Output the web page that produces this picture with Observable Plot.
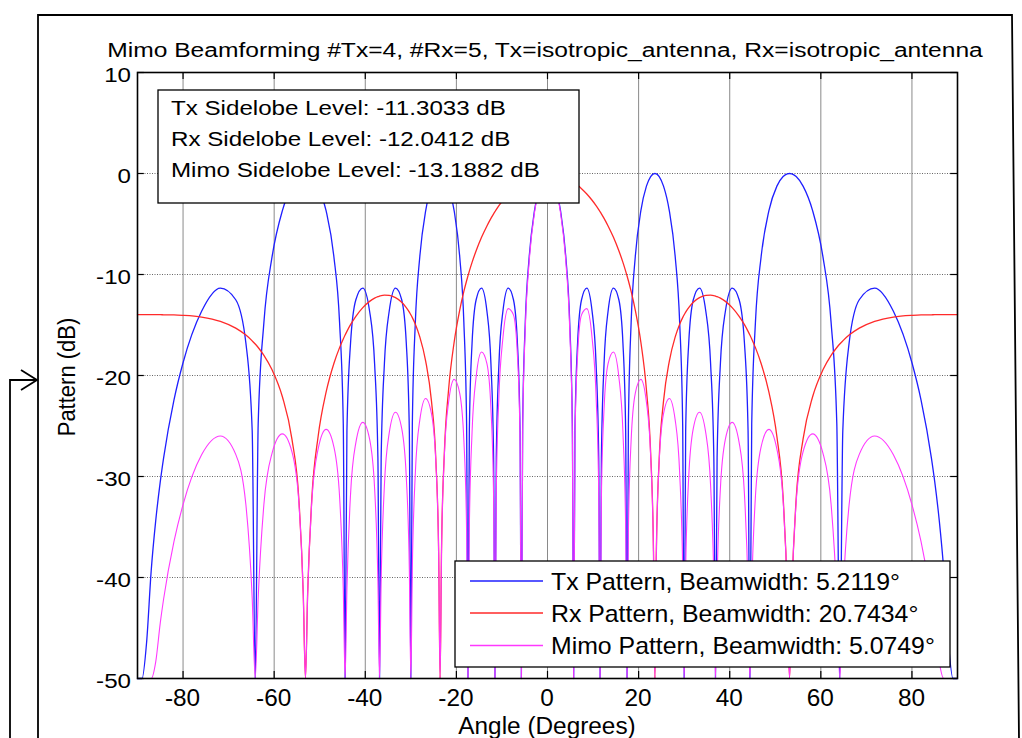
<!DOCTYPE html>
<html><head><meta charset="utf-8">
<script src="https://cdn.jsdelivr.net/npm/d3@7"></script>
<script src="https://cdn.jsdelivr.net/npm/@observablehq/plot@0.6"></script>
<style>
html,body{margin:0;padding:0;background:#fff;}
#chart{position:relative;width:1022px;height:738px;overflow:hidden;}
#chart svg{display:block;}
</style></head><body><div id="chart"></div>
<script>
const titleText = "Mimo Beamforming #Tx=4, #Rx=5, Tx=isotropic_antenna, Rx=isotropic_antenna";
const xLabel = "Angle (Degrees)";
const yLabel = "Pattern (dB)";
const xTicks = [-80, -60, -40, -20, 0, 20, 40, 60, 80];
const yTicks = [10, 0, -10, -20, -30, -40, -50];
const sidelobeLines = ["Tx Sidelobe Level: -11.3033 dB", "Rx Sidelobe Level: -12.0412 dB", "Mimo Sidelobe Level: -13.1882 dB"];
const seriesNames = ["Tx Pattern, Beamwidth: 5.2119°", "Rx Pattern, Beamwidth: 20.7434°", "Mimo Pattern, Beamwidth: 5.0749°"];
const seriesColors = ["#1f1fff", "#ff2a2a", "#ff38ff"];

const angle = [
-90,-89,-88,-87,-86,-85,-84.268,-82,-80.064,-75.93,-71.805,-68.435,-66.206,-64.823,-64.158,
-63.508,-62.252,-60.459,-58.212,-56.099,-54.587,-53.61,-53.13,
-52.655,-51.721,-50.354,-48.59,-46.892,-45.643,-44.83,-44.427,
-44.027,-43.236,-42.067,-40.542,-39.05,-37.952,-37.229,-36.87,
-36.513,-35.803,-34.751,-33.367,-32.005,-30.997,-30.331,-30,
-29.67,-29.012,-28.034,-26.744,-25.468,-24.519,-23.891,-23.578,
-23.266,-22.644,-21.716,-20.487,-19.268,-18.361,-17.758,-17.458,
-17.158,-16.559,-15.664,-14.478,-13.297,-12.416,-11.829,-11.537,
-11.245,-10.661,-9.788,-8.627,-7.47,-6.604,-6.027,-5.739,
-5.451,-4.876,-4.014,-2.866,-1.719,-0.86,-0.287,
0,0.287,0.86,1.719,2.866,4.014,4.876,5.451,
5.739,6.027,6.604,7.47,8.627,9.788,10.661,11.245,
11.537,11.829,12.416,13.297,14.478,15.664,16.559,17.158,
17.458,17.758,18.361,19.268,20.487,21.716,22.644,23.266,
23.578,23.891,24.519,25.468,26.744,28.034,29.012,29.67,
30,30.331,30.997,32.005,33.367,34.751,35.803,36.513,
36.87,37.229,37.952,39.05,40.542,42.067,43.236,44.027,
44.427,44.83,45.643,46.892,48.59,50.354,51.721,52.655,
53.13,53.61,54.587,56.099,58.212,60.459,62.252,63.508,
64.158,64.823,66.206,68.435,71.805,75.93,80.064,82,84.268,85,86,87,88,89,90
];

const txPattern = [
-50,-50,-46.41,-39.37,-34.37,-30.51,-28.15,-22.44,-18.84,-13.64,-11.35,-12.5,-16.8,-25.47,-50,
-24.79,-14.74,-8.24,-3.7,-1.25,-0.3,-0.03,0,
-0.03,-0.3,-1.25,-3.7,-8.24,-14.74,-24.79,-50,
-25.47,-16.8,-12.5,-11.35,-13.64,-18.84,-28.15,-50,
-28.15,-18.84,-13.64,-11.35,-12.5,-16.8,-25.47,-50,
-24.79,-14.74,-8.24,-3.7,-1.25,-0.3,-0.03,0,
-0.03,-0.3,-1.25,-3.7,-8.24,-14.74,-24.79,-50,
-25.47,-16.8,-12.5,-11.35,-13.64,-18.84,-28.15,-50,
-28.15,-18.84,-13.64,-11.35,-12.5,-16.8,-25.47,-50,
-24.79,-14.74,-8.24,-3.7,-1.25,-0.3,-0.03,
0,-0.03,-0.3,-1.25,-3.7,-8.24,-14.74,-24.79,
-50,-25.47,-16.8,-12.5,-11.35,-13.64,-18.84,-28.15,
-50,-28.15,-18.84,-13.64,-11.35,-12.5,-16.8,-25.47,
-50,-24.79,-14.74,-8.24,-3.7,-1.25,-0.3,-0.03,
0,-0.03,-0.3,-1.25,-3.7,-8.24,-14.74,-24.79,
-50,-25.47,-16.8,-12.5,-11.35,-13.64,-18.84,-28.15,
-50,-28.15,-18.84,-13.64,-11.35,-12.5,-16.8,-25.47,
-50,-24.79,-14.74,-8.24,-3.7,-1.25,-0.3,-0.03,
0,-0.03,-0.3,-1.25,-3.7,-8.24,-14.74,-24.79,
-50,-25.47,-16.8,-12.5,-11.35,-13.64,-18.84,-22.44,-28.15,-30.51,-34.37,-39.37,-46.41,-50,-50
];

const rxPattern = [
-13.98,-13.98,-13.98,-13.98,-13.98,-13.98,-13.99,-14.0,-14.04,-14.21,-14.64,-15.31,-16.0,-16.57,-16.88,
-17.23,-18.0,-19.44,-22.08,-26.3,-32.2,-41.69,-50,
-41.64,-32.07,-26.04,-21.63,-18.81,-17.24,-16.38,-15.99,
-15.63,-14.97,-14.14,-13.28,-12.66,-12.34,-12.19,-12.14,
-12.09,-12.05,-12.07,-12.29,-12.74,-13.27,-13.72,-13.98,
-14.27,-14.92,-16.18,-18.57,-22.54,-28.24,-37.58,-50,
-37.39,-27.67,-21.41,-16.68,-13.52,-11.68,-10.62,-10.13,
-9.67,-8.8,-7.65,-6.32,-5.19,-4.44,-3.99,-3.78,
-3.57,-3.18,-2.65,-2.03,-1.51,-1.17,-0.97,-0.88,
-0.79,-0.63,-0.42,-0.22,-0.08,-0.02,0,
0,0,-0.02,-0.08,-0.22,-0.42,-0.63,-0.79,
-0.88,-0.97,-1.17,-1.51,-2.03,-2.65,-3.18,-3.57,
-3.78,-3.99,-4.44,-5.19,-6.32,-7.65,-8.8,-9.67,
-10.13,-10.62,-11.68,-13.52,-16.68,-21.41,-27.67,-37.39,
-50,-37.58,-28.24,-22.54,-18.57,-16.18,-14.92,-14.27,
-13.98,-13.72,-13.27,-12.74,-12.29,-12.07,-12.05,-12.09,
-12.14,-12.19,-12.34,-12.66,-13.28,-14.14,-14.97,-15.63,
-15.99,-16.38,-17.24,-18.81,-21.63,-26.04,-32.07,-41.64,
-50,-41.69,-32.2,-26.3,-22.08,-19.44,-18.0,-17.23,
-16.88,-16.57,-16.0,-15.31,-14.64,-14.21,-14.04,-14.0,-13.99,-13.98,-13.98,-13.98,-13.98,-13.98,-13.98
];

const mimoPattern = [
-50,-50,-50,-50,-48.35,-44.49,-42.13,-36.45,-32.88,-27.85,-25.99,-27.81,-32.8,-42.04,-50,
-42.02,-32.74,-27.68,-25.78,-27.55,-32.51,-41.72,-50,
-41.68,-32.38,-27.28,-25.33,-27.06,-31.98,-41.17,-50,
-41.1,-31.77,-26.64,-24.64,-26.3,-31.18,-40.34,-50,
-40.24,-30.89,-25.71,-23.64,-25.24,-30.07,-39.19,-50,
-39.06,-29.66,-24.42,-22.27,-23.78,-28.54,-37.61,-50,
-37.42,-27.98,-22.65,-20.38,-21.76,-26.41,-35.41,-50,
-35.14,-25.61,-20.15,-17.68,-18.83,-23.29,-32.14,-50,
-31.72,-22.02,-16.29,-13.38,-14.0,-17.97,-26.44,-50,
-25.58,-15.37,-8.67,-3.91,-1.32,-0.32,-0.04,
0,-0.04,-0.32,-1.32,-3.91,-8.67,-15.37,-25.58,
-50,-26.44,-17.97,-14.0,-13.38,-16.29,-22.02,-31.72,
-50,-32.14,-23.29,-18.83,-17.68,-20.15,-25.61,-35.14,
-50,-35.41,-26.41,-21.76,-20.38,-22.65,-27.98,-37.42,
-50,-37.61,-28.54,-23.78,-22.27,-24.42,-29.66,-39.06,
-50,-39.19,-30.07,-25.24,-23.64,-25.71,-30.89,-40.24,
-50,-40.34,-31.18,-26.3,-24.64,-26.64,-31.77,-41.1,
-50,-41.17,-31.98,-27.06,-25.33,-27.28,-32.38,-41.68,
-50,-41.72,-32.51,-27.55,-25.78,-27.68,-32.74,-42.02,
-50,-42.04,-32.8,-27.81,-25.99,-27.85,-32.88,-36.45,-42.13,-44.49,-48.35,-50,-50,-50,-50
];

const FONT = "'Liberation Sans', Arial, Helvetica, sans-serif";
const rows = (vals) => angle.map((a, i) => ({a, v: vals[i]}));
const series = [txPattern, rxPattern, mimoPattern];

const plot = Plot.plot({
  width: 1022, height: 738,
  marginLeft: 137, marginRight: 65, marginTop: 72, marginBottom: 60,
  x: {domain: [-90, 90], axis: null},
  y: {domain: [-50, 10], axis: null},
  style: {fontFamily: FONT, fontSize: "21px", color: "#000", background: "transparent", overflow: "visible"},
  marks: [
    Plot.ruleX(xTicks, {stroke: "#8a8a8a", strokeWidth: 1}),
    Plot.ruleY(yTicks.filter(d => d < 10 && d > -50), {stroke: "#666", strokeWidth: 1, strokeDasharray: "1,1.5"}),
    ...series.map((s, i) => Plot.line(rows(s), {x: "a", y: "v", stroke: seriesColors[i], strokeWidth: i === 2 ? 1.1 : 1.3, curve: "monotone-x"})),
    Plot.ruleX(xTicks, {y1: -50, y2: -49.3, stroke: "#000", strokeWidth: 1.2}),
    Plot.ruleX(xTicks, {y1: 10, y2: 9.3, stroke: "#000", strokeWidth: 1.2}),
    Plot.ruleY(yTicks, {x1: -90, x2: -88.5, stroke: "#000", strokeWidth: 1.2}),
    Plot.ruleY(yTicks, {x1: 90, x2: 88.5, stroke: "#000", strokeWidth: 1.2}),
    Plot.frame({stroke: "#000", strokeWidth: 1.6})
  ]
});

document.getElementById("chart").appendChild(plot);
const svg = d3.select(plot);
const sx = plot.scale("x"), sy = plot.scale("y");

function addText(str, x, y, size, sxf, anchor, rotate) {
  return svg.append("text")
    .attr("transform", `translate(${x},${y}) scale(${sxf},1)` + (rotate ? ` rotate(${rotate})` : ""))
    .attr("text-anchor", anchor)
    .attr("font-family", FONT)
    .attr("font-size", size)
    .attr("fill", "#000")
    .text(str);
}

// tick labels placed through the plot's own scales
xTicks.forEach(v => addText(String(v), sx.apply(v), 706, 23, 1.06, "middle"));
yTicks.forEach(v => addText(String(v), 131, sy.apply(v) + 9.5, 21, 1.15, "end"));

// outer figure frame and connector arrow
svg.append("path").attr("d", "M38,740 L38,15 L1012,15 L1019,740")
  .attr("fill", "none").attr("stroke", "#000").attr("stroke-width", 1.8);
svg.append("path").attr("d", "M10,740 L10,380 L37,380")
  .attr("fill", "none").attr("stroke", "#000").attr("stroke-width", 1.8);
svg.append("path").attr("d", "M21,370 L37,380 L21,390")
  .attr("fill", "none").attr("stroke", "#000").attr("stroke-width", 1.8);

// title and axis labels
addText(titleText, 545, 57, 20, 1.23, "middle");
addText(xLabel, 547, 734, 23, 1.06, "middle");
addText(yLabel, 75, 377, 22, 1.06, "middle", -90);

// sidelobe annotation box
svg.append("rect").attr("x", 158).attr("y", 90).attr("width", 421).attr("height", 113)
  .attr("fill", "#fff").attr("stroke", "#000").attr("stroke-width", 1.3);
sidelobeLines.forEach((t, i) => addText(t, 171, 115 + i * 31, 21, 1.15, "start"));

// legend box
svg.append("rect").attr("x", 455).attr("y", 561).attr("width", 495).attr("height", 106)
  .attr("fill", "#fff").attr("stroke", "#000").attr("stroke-width", 1.3);
const legY = [581, 613, 645.5];
seriesNames.forEach((t, i) => {
  svg.append("line").attr("x1", 470).attr("x2", 543).attr("y1", legY[i]).attr("y2", legY[i])
    .attr("stroke", seriesColors[i]).attr("stroke-width", 1.3);
  addText(t, 551, legY[i] + 8.5, 23, 1.08, "start");
});
</script>
</body></html>
